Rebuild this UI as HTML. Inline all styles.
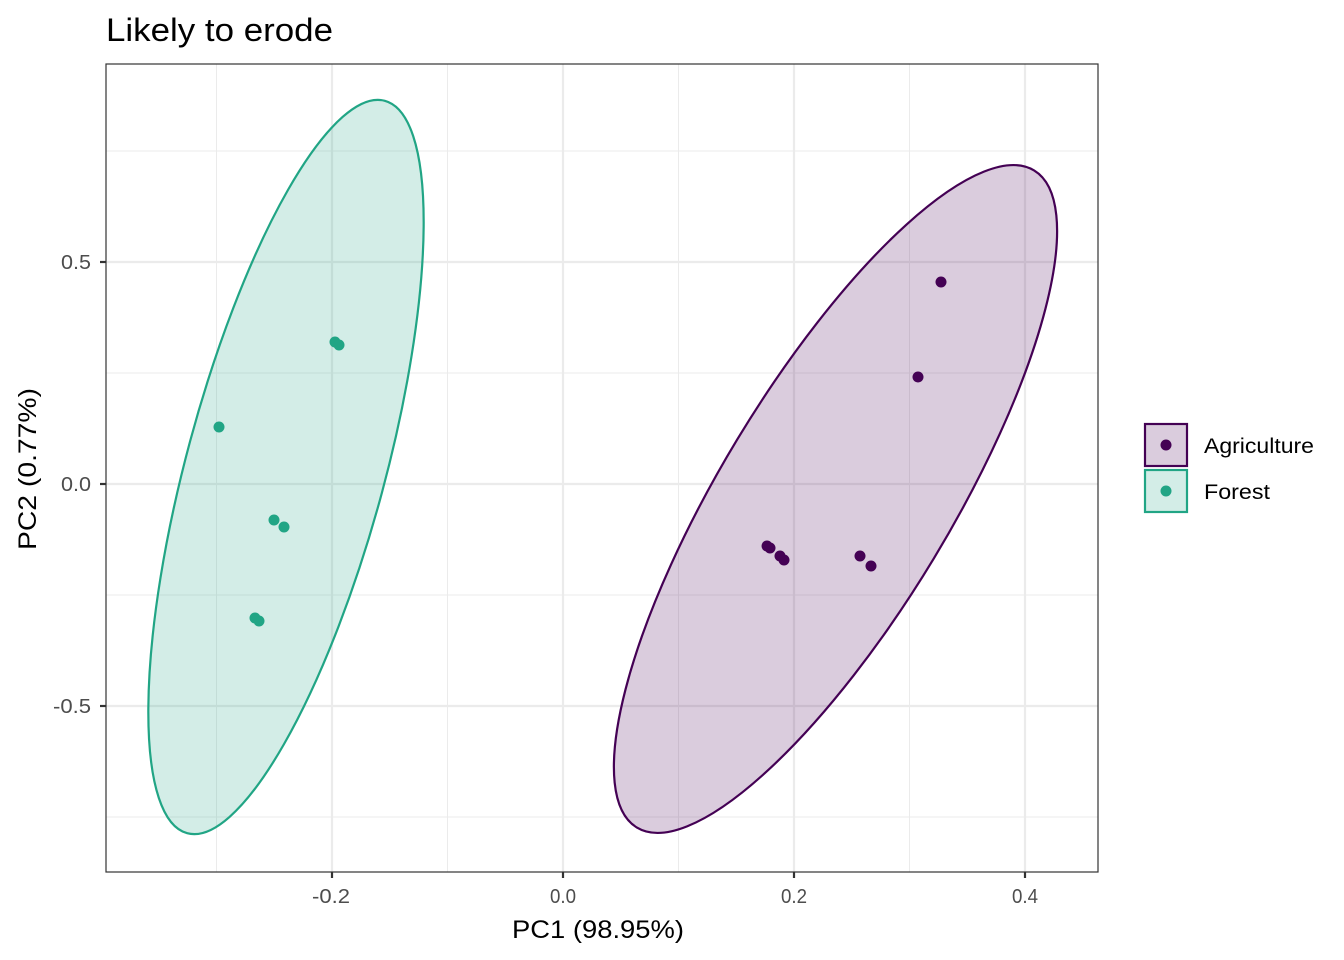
<!DOCTYPE html>
<html><head><meta charset="utf-8"><style>html,body{margin:0;padding:0;background:#fff}svg{display:block}</style></head>
<body>
<svg width="1344" height="960" xmlns="http://www.w3.org/2000/svg" font-family="Liberation Sans, sans-serif">
<rect width="1344" height="960" fill="#fff"/>
<text x="106" y="41" font-size="32" fill="#000" textLength="227" lengthAdjust="spacingAndGlyphs">Likely to erode</text>
<g stroke="#ebebeb" stroke-width="1">
<line x1="216.5" y1="64" x2="216.5" y2="872"/><line x1="447.5" y1="64" x2="447.5" y2="872"/>
<line x1="678.5" y1="64" x2="678.5" y2="872"/><line x1="909.5" y1="64" x2="909.5" y2="872"/>
<line x1="106" y1="151" x2="1098" y2="151"/><line x1="106" y1="373" x2="1098" y2="373"/>
<line x1="106" y1="595" x2="1098" y2="595"/><line x1="106" y1="817" x2="1098" y2="817"/>
</g>
<g stroke="#ebebeb" stroke-width="2.2">
<line x1="332" y1="64" x2="332" y2="872"/><line x1="563" y1="64" x2="563" y2="872"/>
<line x1="794" y1="64" x2="794" y2="872"/><line x1="1025" y1="64" x2="1025" y2="872"/>
<line x1="106" y1="262" x2="1098" y2="262"/><line x1="106" y1="484" x2="1098" y2="484"/>
<line x1="106" y1="706" x2="1098" y2="706"/>
</g>
<ellipse cx="286" cy="467" rx="379.3" ry="99.3" transform="rotate(105.1 286 467)" fill="#21a585" fill-opacity="0.2" stroke="#21a585" stroke-width="2.2"/>
<ellipse cx="835.5" cy="499" rx="383.9" ry="114.9" transform="rotate(121.15 835.5 499)" fill="#440154" fill-opacity="0.2" stroke="#440154" stroke-width="2.2"/>
<g fill="#21a585">
<circle cx="219" cy="427" r="5.5"/><circle cx="335" cy="342" r="5.5"/><circle cx="339" cy="345" r="5.5"/>
<circle cx="274" cy="520" r="5.5"/><circle cx="284" cy="527" r="5.5"/><circle cx="255" cy="618" r="5.5"/><circle cx="259" cy="621" r="5.5"/>
</g>
<g fill="#440154">
<circle cx="941" cy="282" r="5.5"/><circle cx="918" cy="377" r="5.5"/><circle cx="767" cy="546" r="5.5"/><circle cx="770" cy="548" r="5.5"/>
<circle cx="780" cy="556" r="5.5"/><circle cx="784" cy="560" r="5.5"/><circle cx="860" cy="556" r="5.5"/><circle cx="871" cy="566" r="5.5"/>
</g>
<rect x="106" y="64" width="992" height="808" fill="none" stroke="#333" stroke-width="1.2"/>
<g stroke="#333" stroke-width="2.2">
<line x1="332" y1="872" x2="332" y2="878"/><line x1="563" y1="872" x2="563" y2="878"/>
<line x1="794" y1="872" x2="794" y2="878"/><line x1="1025" y1="872" x2="1025" y2="878"/>
<line x1="100" y1="262" x2="106" y2="262"/><line x1="100" y1="484" x2="106" y2="484"/><line x1="100" y1="706" x2="106" y2="706"/>
</g>
<g font-size="20" fill="#4d4d4d">
<text x="312" y="903" textLength="38" lengthAdjust="spacingAndGlyphs">-0.2</text>
<text x="550" y="903" textLength="26" lengthAdjust="spacingAndGlyphs">0.0</text>
<text x="781" y="903" textLength="26" lengthAdjust="spacingAndGlyphs">0.2</text>
<text x="1012" y="903" textLength="26" lengthAdjust="spacingAndGlyphs">0.4</text>
<text x="61" y="269" textLength="30" lengthAdjust="spacingAndGlyphs">0.5</text>
<text x="61" y="491" textLength="30" lengthAdjust="spacingAndGlyphs">0.0</text>
<text x="53" y="713" textLength="38" lengthAdjust="spacingAndGlyphs">-0.5</text>
</g>
<text x="512" y="938" font-size="25" fill="#000" textLength="172" lengthAdjust="spacingAndGlyphs">PC1 (98.95%)</text>
<text transform="translate(36 469) rotate(-90)" x="-81" y="0" font-size="25" fill="#000" textLength="162" lengthAdjust="spacingAndGlyphs">PC2 (0.77%)</text>
<rect x="1145" y="424" width="42" height="42" fill="#440154" fill-opacity="0.2" stroke="#440154" stroke-width="2.2"/>
<circle cx="1166" cy="445" r="5.5" fill="#440154"/>
<rect x="1145" y="470" width="42" height="42" fill="#21a585" fill-opacity="0.2" stroke="#21a585" stroke-width="2.2"/>
<circle cx="1166" cy="491" r="5.5" fill="#21a585"/>
<text x="1204" y="453" font-size="21" fill="#000" textLength="110" lengthAdjust="spacingAndGlyphs">Agriculture</text>
<text x="1204" y="499" font-size="21" fill="#000" textLength="66" lengthAdjust="spacingAndGlyphs">Forest</text>
</svg>
</body></html>
